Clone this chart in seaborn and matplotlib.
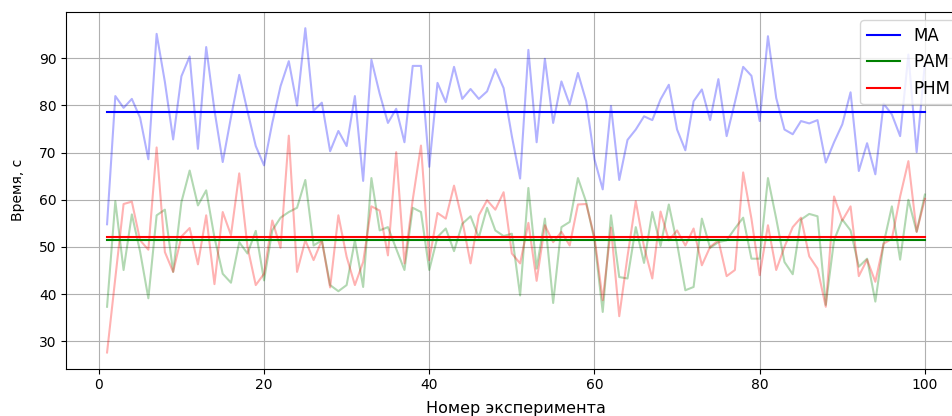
import numpy as np
import pandas as pd
import matplotlib
matplotlib.use("Agg")
import matplotlib.pyplot as plt
import seaborn as sns

experiments = list(range(1, 101))

ma_times = [54.8, 82.0, 79.5, 81.4, 77.4, 68.6, 95.2, 85.0, 72.8, 86.2,
            90.4, 70.8, 92.4, 79.0, 68.0, 77.5, 86.5, 78.8, 71.4, 67.3,
            76.3, 84.1, 89.4, 80.0, 96.4, 78.9, 80.6, 70.3, 74.6, 71.4,
            82.0, 64.0, 89.7, 82.5, 76.3, 79.3, 72.2, 88.4, 88.4, 67.0,
            84.8, 80.7, 88.2, 81.4, 83.5, 81.4, 83.0, 87.7, 83.7, 73.5,
            64.5, 91.8, 72.2, 89.9, 76.3, 85.1, 80.2, 86.9, 80.9, 68.6,
            62.2, 79.9, 64.2, 72.7, 74.9, 77.7, 76.9, 81.3, 84.4, 74.9,
            70.5, 80.9, 83.4, 76.9, 85.6, 73.5, 80.7, 88.2, 86.3, 76.7,
            94.7, 81.6, 74.9, 73.9, 76.7, 76.2, 76.9, 67.9, 72.2, 76.0,
            82.8, 66.1, 72.0, 65.4, 80.4, 78.1, 73.5, 90.8, 70.1, 89.0]

ram_times = [37.3, 59.7, 45.1, 56.9, 49.0, 39.1, 56.7, 57.9, 44.7, 59.5,
             66.2, 58.8, 62.0, 52.0, 44.3, 42.4, 51.0, 48.6, 53.4, 42.9,
             53.5, 56.2, 57.4, 58.3, 64.2, 50.3, 51.4, 41.9, 40.6, 41.9,
             51.4, 41.5, 64.6, 53.5, 54.2, 49.6, 45.1, 58.3, 57.4, 45.1,
             52.1, 53.9, 49.1, 54.9, 56.5, 52.0, 58.3, 53.5, 52.3, 52.8,
             39.7, 62.5, 45.4, 56.0, 38.1, 54.2, 55.3, 64.6, 59.5, 51.4,
             36.2, 56.7, 43.6, 43.3, 54.2, 46.6, 57.4, 50.2, 59.0, 50.7,
             40.8, 41.5, 56.0, 49.8, 51.0, 51.4, 53.9, 56.2, 47.5, 47.5,
             64.6, 56.0, 46.8, 44.2, 55.8, 57.0, 56.5, 37.7, 51.4, 55.8,
             53.5, 45.8, 47.5, 38.4, 50.7, 58.6, 47.3, 60.0, 53.2, 61.1]

rnm_times = [27.6, 43.4, 59.1, 59.6, 51.4, 49.4, 71.1, 48.9, 44.7, 52.2,
             54.0, 46.3, 56.7, 42.1, 57.4, 52.5, 65.6, 50.0, 41.9, 44.3,
             55.6, 49.8, 73.6, 44.7, 51.4, 47.2, 51.4, 41.4, 56.7, 47.9,
             41.9, 46.8, 58.6, 57.7, 48.2, 70.1, 46.5, 60.0, 71.5, 47.2,
             57.2, 56.0, 63.0, 55.6, 46.5, 56.7, 59.9, 57.9, 61.6, 48.6,
             46.5, 55.1, 42.8, 54.6, 51.0, 53.2, 50.3, 59.0, 59.1, 52.1,
             38.7, 54.1, 35.3, 48.0, 59.7, 50.0, 43.3, 57.5, 51.4, 53.5,
             50.3, 53.9, 46.1, 50.0, 51.4, 43.8, 45.1, 65.8, 56.0, 44.0,
             54.6, 45.1, 50.0, 54.2, 56.2, 48.0, 45.4, 37.3, 60.7, 55.6,
             58.6, 43.8, 47.3, 42.6, 50.7, 51.7, 60.7, 68.2, 53.2, 60.2]

series_labels = ["МА", "РАМ", "РНМ"]
series_colors = ["blue", "green", "red"]
mean_values = [78.6, 51.5, 52.2]

x_label = "Номер эксперимента"
y_label = "Время, с"

fig = plt.figure(figsize=(9.52, 4.16), dpi=100)
ax = fig.add_axes([0.0695, 0.1137, 0.945, 0.8575])

for data, color in zip([ma_times, ram_times, rnm_times], series_colors):
    sns.lineplot(x=experiments, y=data, color=color, alpha=0.3,
                 linewidth=1.5, ax=ax)

for mean, color, label in zip(mean_values, series_colors, series_labels):
    sns.lineplot(x=experiments, y=[mean] * len(experiments), color=color,
                 linewidth=1.5, label=label, ax=ax)

ax.set_xlabel(x_label, fontsize=11.5, labelpad=6)
ax.set_ylabel(y_label, fontsize=10, labelpad=10)
ax.grid(True)
ax.legend(loc="upper right", fontsize=12)

fig.savefig("out.png", dpi=100)
